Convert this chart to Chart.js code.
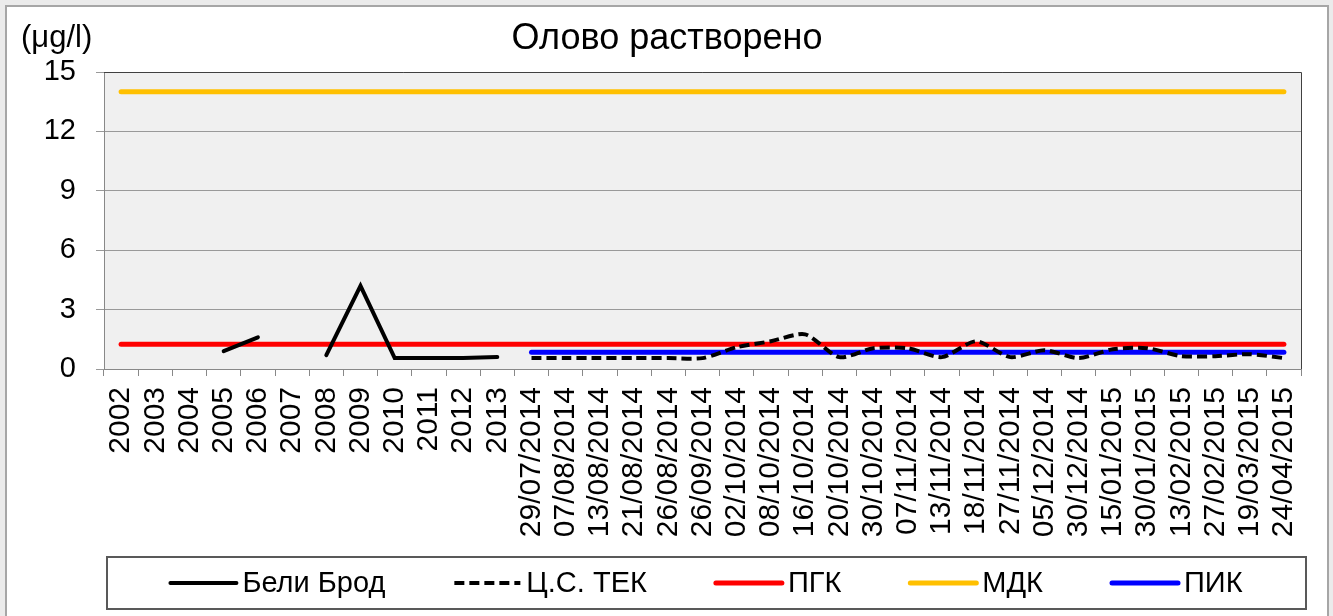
<!DOCTYPE html>
<html>
<head>
<meta charset="utf-8">
<script src="https://cdn.jsdelivr.net/npm/chart.js@4.4.1/dist/chart.umd.min.js"></script>
<style>
  html, body { margin: 0; padding: 0; background: #ffffff; }
  #wrap { width: 1333px; height: 616px; }
</style>
</head>
<body>
<div id="wrap"><canvas id="c" width="1333" height="616"></canvas></div>
<script>
const chartTitle = 'Олово растворено';
const unitLabel = '(μg/l)';

const categories = [
  '2002','2003','2004','2005','2006','2007','2008','2009','2010','2011','2012','2013',
  '29/07/2014','07/08/2014','13/08/2014','21/08/2014','26/08/2014','26/09/2014',
  '02/10/2014','08/10/2014','16/10/2014','20/10/2014','30/10/2014','07/11/2014',
  '13/11/2014','18/11/2014','27/11/2014','05/12/2014','30/12/2014','15/01/2015',
  '30/01/2015','13/02/2015','27/02/2015','19/03/2015','24/04/2015'
];

const yTicks = [0, 3, 6, 9, 12, 15];

const beliBrod = [
  null, null, null, 0.9, 1.6, null, 0.7, 4.2, 0.55, 0.55, 0.55, 0.6,
  null, null, null, null, null, null, null, null, null, null, null, null,
  null, null, null, null, null, null, null, null, null, null, null
];

const tsTek = [
  null, null, null, null, null, null, null, null, null, null, null, null,
  0.55, 0.55, 0.55, 0.55, 0.55, 0.55, 1.1, 1.4, 1.75, 0.6, 1.05, 1.05,
  0.6, 1.4, 0.6, 0.95, 0.55, 1.0, 1.05, 0.65, 0.65, 0.75, 0.55
];

const pgk = [
  1.25, 1.25, 1.25, 1.25, 1.25, 1.25, 1.25, 1.25, 1.25, 1.25, 1.25, 1.25,
  1.25, 1.25, 1.25, 1.25, 1.25, 1.25, 1.25, 1.25, 1.25, 1.25, 1.25, 1.25,
  1.25, 1.25, 1.25, 1.25, 1.25, 1.25, 1.25, 1.25, 1.25, 1.25, 1.25
];

const mdk = [
  14, 14, 14, 14, 14, 14, 14, 14, 14, 14, 14, 14,
  14, 14, 14, 14, 14, 14, 14, 14, 14, 14, 14, 14,
  14, 14, 14, 14, 14, 14, 14, 14, 14, 14, 14
];

const pik = [
  null, null, null, null, null, null, null, null, null, null, null, null,
  0.85, 0.85, 0.85, 0.85, 0.85, 0.85, 0.85, 0.85, 0.85, 0.85, 0.85, 0.85,
  0.85, 0.85, 0.85, 0.85, 0.85, 0.85, 0.85, 0.85, 0.85, 0.85, 0.85
];

const FONT = "'Liberation Sans', Arial, sans-serif";

const framePlugin = {
  id: 'frame',
  beforeDraw(chart) {
    const ctx = chart.ctx;
    const W = chart.width, H = chart.height;
    ctx.save();
    ctx.fillStyle = '#ebebeb';
    ctx.fillRect(0, 0, W, H);
    ctx.fillStyle = '#ffffff';
    ctx.fillRect(6, 6, W - 11, H);
    ctx.strokeStyle = '#a6a6a6';
    ctx.lineWidth = 2;
    ctx.strokeRect(6, 6, W - 11, H + 10);
    const a = chart.chartArea;
    ctx.fillStyle = '#f0f0f0';
    ctx.fillRect(a.left, a.top, a.right - a.left, a.bottom - a.top);
    ctx.restore();
  },
  beforeDatasetsDraw(chart) {
    const ctx = chart.ctx;
    const a = chart.chartArea;
    ctx.save();
    ctx.strokeStyle = '#404040';
    ctx.lineWidth = 1;
    ctx.beginPath();
    ctx.moveTo(a.left, a.top + 0.5);
    ctx.lineTo(a.right + 0.5, a.top + 0.5);
    ctx.lineTo(a.right + 0.5, a.bottom);
    ctx.stroke();
    ctx.restore();
  },
  afterDraw(chart) {
    const ctx = chart.ctx;
    ctx.save();
    ctx.fillStyle = '#000';
    ctx.textBaseline = 'middle';
    ctx.font = '36px ' + FONT;
    ctx.textAlign = 'center';
    ctx.fillText(chartTitle, 667, 39);
    ctx.font = '31px ' + FONT;
    ctx.textAlign = 'left';
    ctx.fillText(unitLabel, 21, 38);

    const bx = 107, by = 557, bw = 1199, bh = 52;
    ctx.strokeStyle = '#595959';
    ctx.lineWidth = 2;
    ctx.strokeRect(bx, by, bw, bh);
    const ds = chart.data.datasets;
    ctx.font = '29px ' + FONT;
    const lineLen = 66, txtGap = 6, itemGap = 69;
    const widths = ds.map(d => lineLen + txtGap + ctx.measureText(d.label).width);
    const total = widths.reduce((s, w) => s + w, 0) + itemGap * (ds.length - 1);
    let x = bx + bw / 2 - total / 2;
    const cy = by + bh / 2;
    ds.forEach((d, i) => {
      ctx.save();
      ctx.strokeStyle = d.borderColor;
      ctx.lineWidth = d.borderWidth;
      ctx.lineCap = d.borderDash && d.borderDash.length ? 'butt' : 'round';
      ctx.setLineDash(d.borderDash || []);
      ctx.beginPath();
      ctx.moveTo(x, cy);
      ctx.lineTo(x + lineLen, cy);
      ctx.stroke();
      ctx.restore();
      ctx.fillStyle = '#000';
      ctx.textAlign = 'left';
      ctx.textBaseline = 'middle';
      ctx.fillText(d.label, x + lineLen + txtGap, cy + 1);
      x += widths[i] + itemGap;
    });
    ctx.restore();
  }
};

const ctx = document.getElementById('c').getContext('2d');
new Chart(ctx, {
  type: 'line',
  data: {
    labels: categories,
    datasets: [
      { label: 'Бели Брод', data: beliBrod, borderColor: '#000000', borderWidth: 4,
        pointRadius: 0, spanGaps: false, tension: 0, borderCapStyle: 'round' },
      { label: 'Ц.С. ТЕК', data: tsTek, borderColor: '#000000', borderWidth: 4,
        borderDash: [10, 5], pointRadius: 0, spanGaps: false, tension: 0.25 },
      { label: 'ПГК', data: pgk, borderColor: '#ff0000', borderWidth: 5,
        pointRadius: 0, borderCapStyle: 'round' },
      { label: 'МДК', data: mdk, borderColor: '#ffc000', borderWidth: 5,
        pointRadius: 0, borderCapStyle: 'round' },
      { label: 'ПИК', data: pik, borderColor: '#0000ff', borderWidth: 5,
        pointRadius: 0, borderCapStyle: 'round' }
    ]
  },
  options: {
    responsive: false,
    animation: false,
    devicePixelRatio: 1,
    layout: { padding: { left: 10, top: 72, right: 32, bottom: 62 } },
    plugins: {
      legend: { display: false },
      title: { display: false },
      tooltip: { enabled: false }
    },
    scales: {
      x: {
        type: 'category',
        offset: true,
        grid: { display: true, drawOnChartArea: false, offset: true, tickLength: 7, color: '#888888' },
        border: { color: '#888888', width: 1 },
        ticks: {
          autoSkip: false, minRotation: 90, maxRotation: 90, padding: 11,
          color: '#000', font: { size: 30, family: FONT }
        },
        afterFit(s) { s.height = 185; }
      },
      y: {
        min: 0, max: 15,
        afterBuildTicks(s) { s.ticks = yTicks.map(v => ({ value: v })); },
        grid: { color: '#999999', tickLength: 8 },
        border: { color: '#888888', width: 1 },
        ticks: { padding: 20, color: '#000', font: { size: 29, family: FONT } },
        afterFit(s) { s.width = 94; }
      }
    }
  },
  plugins: [framePlugin]
});
</script>
</body>
</html>
